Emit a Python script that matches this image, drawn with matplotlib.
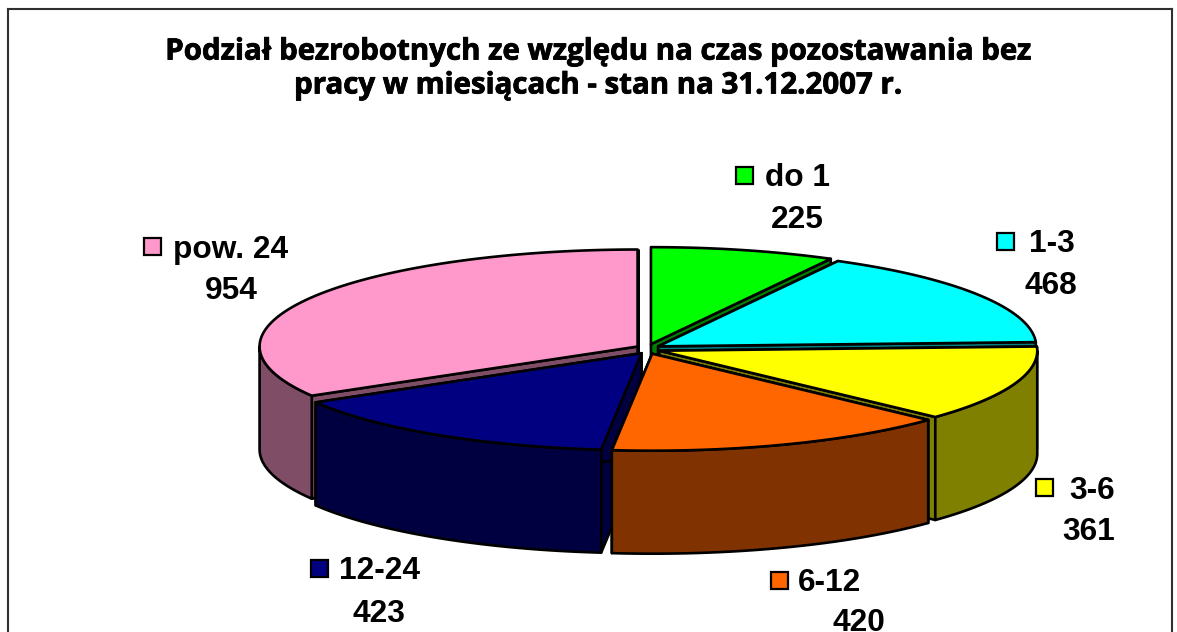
import numpy as np
import matplotlib
matplotlib.use("Agg")
import matplotlib.pyplot as plt
import matplotlib.patheffects as pe
from matplotlib.patches import Polygon, Rectangle
from matplotlib.lines import Line2D

# --- data ---
categories = ["do 1", "1-3", "3-6", "6-12", "12-24", "pow. 24"]
values = [225, 468, 361, 420, 423, 954]
title = "Podział bezrobotnych ze względu na czas pozostawania bez\npracy w miesiącach - stan na 31.12.2007 r."

# --- styles ---
top_colors = ["#00FF00", "#00FFFF", "#FFFF00", "#FF6600", "#000080", "#FF99CC"]
side_colors = ["#008000", "#008080", "#808000", "#803300", "#000040", "#804D66"]
draw_order = [5, 0, 1, 2, 4, 3]

# --- layout (pixels) ---
W, H = 1177, 632
CX, CY = 648, 349
RX, RY = 378, 97
DEPTH = 103
EX, EY = 12, 5
key_xy = [(736, 167), (997, 233), (1036, 479), (771, 572), (311, 560), (144, 238)]
name_xy = [(765, 178), (1029, 244), (1069, 491), (798, 583), (339, 571), (173, 250)]
value_xy = [(797, 220), (1051, 286), (1089, 532), (859, 623), (379, 614), (231, 291)]
KEY = 17

fig = plt.figure(figsize=(W / 100, H / 100), dpi=100, facecolor="white")
ax = fig.add_axes([0, 0, 1, 1])
ax.set_xlim(0, W)
ax.set_ylim(H, 0)
ax.axis("off")

# frame of the chart area
for xs, ys in [((8, 8), (9, H)), ((8, 1172), (9, 9)), ((1172, 1172), (9, H))]:
    ax.add_line(Line2D(xs, ys, color="#303030", lw=1.5))

vals = np.asarray(values, dtype=float)
edges = np.concatenate([[0], np.cumsum(vals) / vals.sum() * 2 * np.pi])


def pt(ox, oy, a):
    return ox + RX * np.sin(a), oy - RY * np.cos(a)


LW = 1.9
for i in draw_order:
    a0, a1 = edges[i], edges[i + 1]
    mid = (a0 + a1) / 2
    ox = CX + EX * np.sin(mid)
    oy = CY - EY * np.cos(mid)
    angs = np.linspace(a0, a1, 120)
    xs, ys = pt(ox, oy, angs)
    # radial cut faces
    for a in (a0, a1):
        x, y = pt(ox, oy, a)
        ax.add_patch(Polygon([(ox, oy), (x, y), (x, y + DEPTH), (ox, oy + DEPTH)],
                             closed=True, fc=side_colors[i], ec="black", lw=LW,
                             joinstyle="round"))
    # outer wall, front half only
    front = angs[np.cos(angs) < 0]
    if front.size > 1:
        fx, fy = pt(ox, oy, front)
        wall = np.r_[np.c_[fx, fy], np.c_[fx[::-1], fy[::-1] + DEPTH]]
        ax.add_patch(Polygon(wall, closed=True, fc=side_colors[i], ec="black", lw=LW,
                             joinstyle="round"))
    # top face
    topf = np.r_[[[ox, oy]], np.c_[xs, ys]]
    ax.add_patch(Polygon(topf, closed=True, fc=top_colors[i], ec="black", lw=LW,
                         joinstyle="round"))

# title
ax.text(597, 69, title, ha="center", va="center", fontsize=21.2, fontweight="bold",
        family="Open Sans", linespacing=1.22, color="black",
        path_effects=[pe.withStroke(linewidth=0.6, foreground="black")])

# labels with legend keys
LABEL_FONT = dict(fontsize=22.8, fontweight="bold", family="Liberation Sans", color="black")
for i, cat in enumerate(categories):
    kx, ky = key_xy[i]
    ax.add_patch(Rectangle((kx, ky), KEY, KEY, fc=top_colors[i], ec="black", lw=1.6))
    ax.text(*name_xy[i], cat, ha="left", va="center", **LABEL_FONT)
    ax.text(*value_xy[i], str(values[i]), ha="center", va="center", **LABEL_FONT)

fig.savefig("out.png", dpi=100)
